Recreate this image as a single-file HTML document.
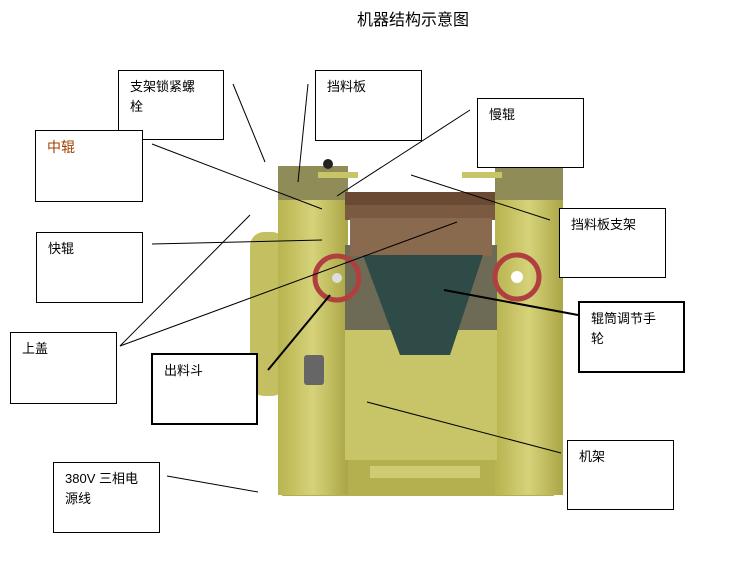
<!DOCTYPE html>
<html><head><meta charset="utf-8"><style>
body{margin:0;width:740px;height:562px;background:#fff;overflow:hidden;position:relative;font-family:"Liberation Sans","Noto Sans CJK SC",sans-serif}
.b{position:absolute;border:1px solid #000;background:#fff;font-size:13px;padding:6px 0 0 11px;box-sizing:border-box;line-height:20px}
.t{position:absolute;font-size:14px}
</style></head><body>
<svg width="740" height="562" style="position:absolute;left:0;top:0">
<defs><linearGradient id="g" x1="0" x2="1"><stop offset="0" stop-color="#b8b450"/><stop offset=".5" stop-color="#d6d27a"/><stop offset="1" stop-color="#aaa645"/></linearGradient></defs>
<!-- motor -->
<rect x="250" y="232" width="36" height="164" rx="14" fill="#c4c062"/>
<!-- base -->
<rect x="282" y="458" width="272" height="38" fill="#b4b050"/>
<rect x="370" y="466" width="110" height="12" fill="#cfcb72"/>
<!-- left block -->
<rect x="278" y="166" width="70" height="40" fill="#8f8c58"/>
<rect x="278" y="200" width="70" height="295" fill="url(#g)"/>
<!-- right block -->
<rect x="495" y="166" width="68" height="40" fill="#8f8c58"/>
<rect x="495" y="200" width="68" height="295" fill="url(#g)"/>
<!-- middle -->
<rect x="345" y="245" width="152" height="90" fill="#6d6b55"/>
<rect x="345" y="330" width="152" height="130" fill="#c8c468"/>
<rect x="345" y="192" width="150" height="15" fill="#6b4a35"/>
<rect x="345" y="205" width="150" height="15" fill="#7a5a40"/>
<rect x="350" y="218" width="142" height="38" fill="#8a6a4e"/>
<polygon points="363,255 483,255 450,355 400,355" fill="#2f4b48"/>
<!-- handles top -->
<rect x="318" y="172" width="40" height="6" fill="#c8c468"/>
<rect x="462" y="172" width="40" height="6" fill="#c8c468"/>
<circle cx="328" cy="164" r="5" fill="#222"/>
<!-- wheels -->
<circle cx="337" cy="278" r="22" fill="none" stroke="#b04040" stroke-width="5"/>
<circle cx="517" cy="277" r="22" fill="none" stroke="#b04040" stroke-width="5"/>
<circle cx="337" cy="278" r="5" fill="#ddd"/><circle cx="517" cy="277" r="6" fill="#fff"/>
<!-- switch -->
<rect x="304" y="355" width="20" height="30" rx="3" fill="#666"/>
<g stroke="#000" stroke-width="1">
<line x1="233" y1="84" x2="265" y2="162"/>
<line x1="308" y1="84" x2="298" y2="182"/>
<line x1="470" y1="110" x2="337" y2="196"/>
<line x1="152" y1="144" x2="322" y2="209"/>
<line x1="411" y1="175" x2="550" y2="220"/>
<line x1="152" y1="244" x2="322" y2="240"/>
<line x1="120" y1="346" x2="250" y2="215"/>
<line x1="120" y1="346" x2="457" y2="222"/>
<line x1="268" y1="370" x2="330" y2="295" stroke-width="2"/>
<line x1="444" y1="290" x2="578" y2="315" stroke-width="2"/>
<line x1="367" y1="402" x2="561" y2="453"/>
<line x1="167" y1="476" x2="258" y2="492"/>
</g>
</svg>
<div class="t" style="left:357px;top:6px;font-size:16px">机器结构示意图</div>
<div class="b" style="left:118px;top:70px;width:106px;height:70px">支架锁紧螺<br>栓</div>
<div class="b" style="left:315px;top:70px;width:107px;height:71px">挡料板</div>
<div class="b" style="left:477px;top:98px;width:107px;height:70px">慢辊</div>
<div class="b" style="left:35px;top:130px;width:108px;height:72px;color:#a04000;font-size:14px">中辊</div>
<div class="b" style="left:559px;top:208px;width:107px;height:70px">挡料板支架</div>
<div class="b" style="left:36px;top:232px;width:107px;height:71px">快辊</div>
<div class="b" style="left:10px;top:332px;width:107px;height:72px">上盖</div>
<div class="b" style="left:578px;top:301px;width:107px;height:72px;border-width:2px">辊筒调节手<br>轮</div>
<div class="b" style="left:151px;top:353px;width:107px;height:72px;border-width:2px">出料斗</div>
<div class="b" style="left:567px;top:440px;width:107px;height:70px">机架</div>
<div class="b" style="left:53px;top:462px;width:107px;height:71px">380V 三相电<br>源线</div>
</body></html>
